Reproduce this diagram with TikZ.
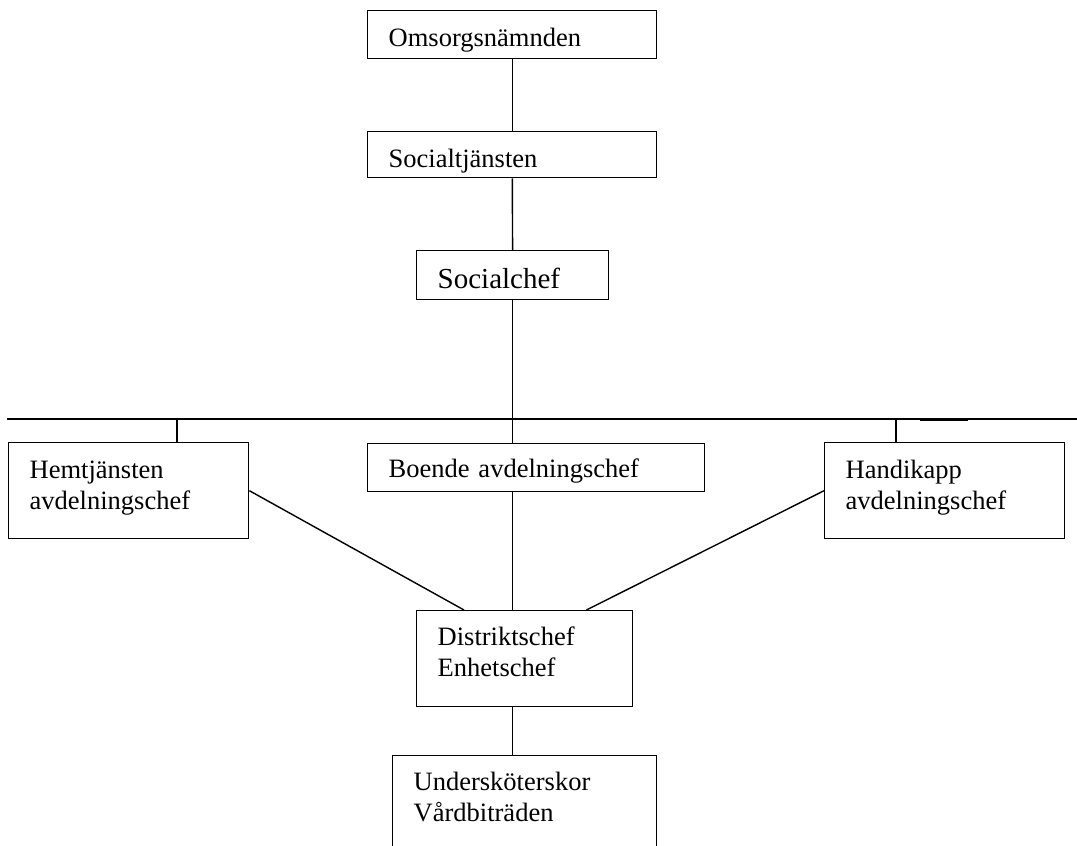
\documentclass[tikz,border=0pt]{standalone}
\usepackage{fontspec}
\setmainfont{Liberation Serif}
\tikzset{orgbox/.style={draw, line width=1.4pt, anchor=north west, align=left, inner xsep=21pt, inner ysep=0pt, text height=36pt, font=\fontsize{26.5}{31}\selectfont}}
\tikzset{orgline/.style={line width=1.4pt}}
\begin{document}
\begin{tikzpicture}[x=1pt, y=-1pt]

\useasboundingbox (0,0) rectangle (1077,846);

\node[orgbox, text width=247pt, text depth=12pt] (omsorg) at (367,10) {Omsorgsnämnden};
\node[orgbox, text width=247pt, text depth=10pt] (socialtj) at (367,131) {Socialtjänsten};
\node[orgbox, text width=150pt, text height=38pt, text depth=11pt, font=\fontsize{29}{34}\selectfont] (socialchef) at (416,250) {Socialchef};

\draw[orgline] (omsorg) to (socialtj);
\draw[orgline] (socialtj) to (socialchef);

% bus line
\coordinate (busL) at (7,419);
\coordinate (busR) at (1080,419);
\coordinate (hemtjTap) at (177,419);
\coordinate (handikTap) at (896,419);
\coordinate (thickL) at (920,419);
\coordinate (thickR) at (968,419);
\draw[orgline] (busL) -- (busR);
\draw[line width=3pt] (thickL) -- (thickR);

\node[orgbox, text width=198pt, text depth=60pt] (hemtj) at (8,442) {Hemtjänsten\\avdelningschef};
\node[orgbox, text width=295pt, text height=34pt, text depth=14pt] (boende) at (367,443) {Boende avdelningschef};
\node[orgbox, text width=198pt, text depth=60pt] (handik) at (824,442) {Handikapp\\avdelningschef};

\draw[orgline] (socialchef.south) -- (socialchef.south |- boende.north);
\draw[orgline] (hemtjTap) -- (hemtjTap |- hemtj.north);
\draw[orgline] (handikTap) -- (handikTap |- handik.north);

\node[orgbox, text width=174pt, text height=35pt, text depth=61pt] (distrikt) at (416,610) {Distriktschef\\Enhetschef};

\draw[orgline] (hemtj.east) -- ([xshift=48pt]distrikt.north west);
\draw[orgline] (handik.west) -- ([xshift=-47pt]distrikt.north east);
\draw[orgline] (socialchef.south |- boende.south) -- (socialchef.south |- distrikt.north);

\node[orgbox, text width=222pt, text height=35pt, text depth=120pt] (under) at (392,755) {Undersköterskor\\Vårdbiträden};

\draw[orgline] (socialchef.south |- distrikt.south) -- (socialchef.south |- under.north);

\end{tikzpicture}
\end{document}
